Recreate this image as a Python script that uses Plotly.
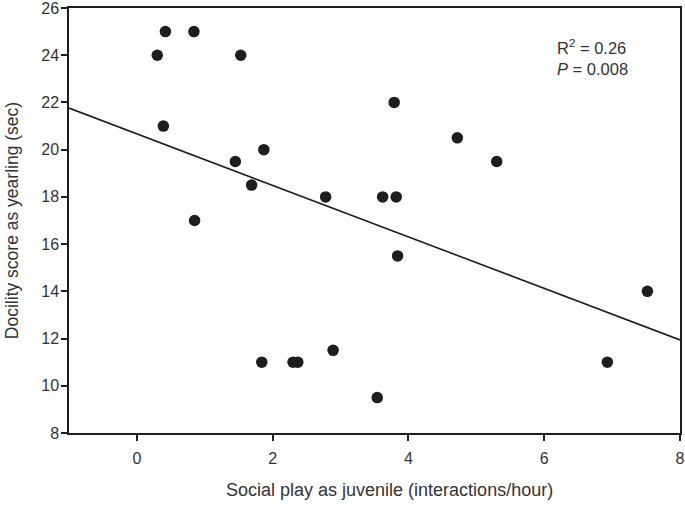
import plotly.graph_objects as go

# Data
social_play = [0.30, 0.42, 0.84, 0.39, 1.53, 0.85, 1.45, 1.87, 1.69, 2.78, 3.62, 3.82,
               3.79, 4.72, 3.84, 1.84, 2.30, 2.37, 2.89, 3.54, 5.30, 7.52, 6.93]
docility = [24, 25, 25, 21, 24, 17, 19.5, 20, 18.5, 18, 18, 18,
            22, 20.5, 15.5, 11, 11, 11, 11.5, 9.5, 19.5, 14, 11]

# Regression line
fit_intercept = 20.67
fit_slope = -1.091
x_range = [-1, 8]
y_range = [8, 26]
x_ticks = [0, 2, 4, 6, 8]
y_ticks = [8, 10, 12, 14, 16, 18, 20, 22, 24, 26]

fit_x = x_range
fit_y = [fit_intercept + fit_slope * v for v in fit_x]

ink = "#1e1e1e"
font_family = "Liberation Sans, Arial, sans-serif"

fig = go.Figure()
fig.add_trace(go.Scatter(x=fit_x, y=fit_y, mode="lines",
                         line=dict(color=ink, width=1.6), showlegend=False,
                         hoverinfo="skip"))
fig.add_trace(go.Scatter(x=social_play, y=docility, mode="markers",
                         marker=dict(color=ink, size=11.5, line=dict(width=0)),
                         showlegend=False))

fig.add_annotation(xref="paper", yref="paper", x=0.795, y=0.908, xanchor="left",
                   yanchor="middle", showarrow=False, align="left",
                   text="R<sup>2</sup> = 0.26", font=dict(size=16.5, color="#333", family=font_family))
fig.add_annotation(xref="paper", yref="paper", x=0.795, y=0.857, xanchor="left",
                   yanchor="middle", showarrow=False, align="left",
                   text="<i>P</i> = 0.008", font=dict(size=16.5, color="#333", family=font_family))
# x-axis title (placed slightly right of centre, as in the reference)
fig.add_annotation(xref="paper", yref="paper", x=0.524, y=-0.134, xanchor="center",
                   yanchor="middle", showarrow=False,
                   text="Social play as juvenile (interactions/hour)",
                   font=dict(size=18, color="#333", family=font_family))

fig.update_layout(
    width=685, height=508,
    margin=dict(l=69, r=5, t=8, b=75),
    paper_bgcolor="white", plot_bgcolor="white",
    font=dict(family=font_family, color="#333", size=16),
    xaxis=dict(range=x_range, tickvals=x_ticks, ticks="outside", ticklen=6,
               tickwidth=1.5, tickcolor=ink, showline=True, linecolor=ink,
               linewidth=1.5, mirror=True, showgrid=False, zeroline=False,
               ticklabelstandoff=4, automargin=False, ticklabeloverflow="allow",
               tickfont=dict(size=16)),
    yaxis=dict(range=y_range, tickvals=y_ticks, ticks="outside", ticklen=6,
               tickwidth=1.5, tickcolor=ink, showline=True, linecolor=ink,
               linewidth=1.5, mirror=True, showgrid=False, zeroline=False,
               ticklabelstandoff=-1, automargin=False, ticklabeloverflow="allow",
               title=dict(text="Docility score as yearling (sec)",
                          font=dict(size=17.5), standoff=18),
               tickfont=dict(size=16)),
)

fig.write_html("out.html", config={"displayModeBar": False},
               post_script="document.body.style.margin='0';")
